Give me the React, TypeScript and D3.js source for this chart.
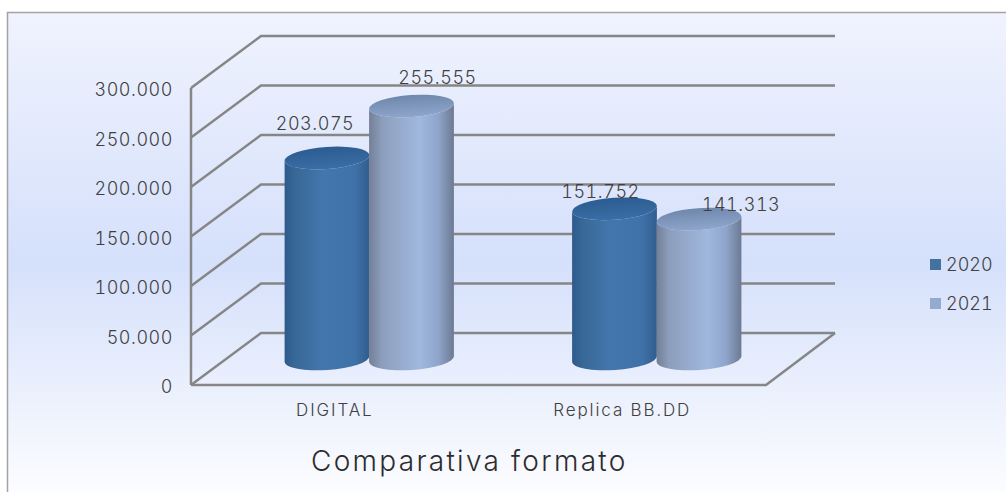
import React from "react";
import * as d3 from "d3";

const categories = ["DIGITAL", "Replica BB.DD"];
const seriesNames = ["2020", "2021"];
const values2020 = [203075, 151752];
const values2021 = [255555, 141313];
const yTicks = [0, 50000, 100000, 150000, 200000, 250000, 300000];
const labelShiftX = [[-12, 26], [-14, 42]];
const labelShiftY = [[-34, -28], [-17, -15]];

const FONT = "Inter, 'DejaVu Sans', sans-serif";
const fmt = (v: number) => String(v).replace(/\B(?=(\d{3})+$)/g, ".");

export default function App() {
  const x0 = 191, x1 = 766, y0 = 385, y1 = 88;
  const depthX = 70, depthY = 52;
  const x = d3.scaleBand().domain(categories).range([x0, x1]);
  const y = d3.scaleLinear().domain([0, 300000]).range([y0, y1]);
  const inner = d3.scaleBand().domain(seriesNames).range([-84, 85]);
  const midX = depthX / 2 - 1, midY = -26;
  const rx = 42.5, ry = 11, tilt = -4;
  const t = (tilt * Math.PI) / 180;
  const series = [values2020, values2021];

  const cylinder = (cat: number, s: number) => {
    const v = series[s][cat];
    const cx = x(categories[cat])! + x.bandwidth() / 2 + midX + inner(seriesNames[s])! + inner.bandwidth() / 2;
    const yBase = y(0) + midY;
    const yTop = y(v) + midY;
    const dx = rx * Math.cos(t), dy = rx * Math.sin(t);
    const side = `M${cx - dx},${yTop - dy} L${cx - dx},${yBase - dy} A${rx},${ry} ${tilt} 0 0 ${cx + dx},${yBase + dy} L${cx + dx},${yTop + dy} A${rx},${ry} ${tilt} 0 1 ${cx - dx},${yTop - dy} Z`;
    return (
      <g key={`${cat}-${s}`}>
        <path d={side} fill={`url(#side${s})`} />
        <ellipse cx={cx} cy={yTop} rx={rx} ry={ry} transform={`rotate(${tilt} ${cx} ${yTop})`} fill={`url(#top${s})`} />
      </g>
    );
  };

  const textStyle = { fontFamily: FONT, fill: "#404040", fontWeight: 300, fontVariantNumeric: "tabular-nums" };

  return (
    <svg width={1006} height={492} style={{ position: "absolute", left: 0, top: 0 }}>
      <defs>
        <linearGradient id="bg" x1="0" y1="0" x2="0" y2="1">
          <stop offset="0" stopColor="#f0f3fe" />
          <stop offset="0.5" stopColor="#d5e0fb" />
          <stop offset="1" stopColor="#ffffff" />
        </linearGradient>
        <linearGradient id="side0" x1="0" y1="0" x2="1" y2="0">
          <stop offset="0" stopColor="#2f5a8c" />
          <stop offset="0.12" stopColor="#376896" />
          <stop offset="0.45" stopColor="#4476ae" />
          <stop offset="0.82" stopColor="#4072aa" />
          <stop offset="1" stopColor="#315d8e" />
        </linearGradient>
        <linearGradient id="side1" x1="0" y1="0" x2="1" y2="0">
          <stop offset="0" stopColor="#737f96" />
          <stop offset="0.15" stopColor="#8c9ebc" />
          <stop offset="0.6" stopColor="#a0b8de" />
          <stop offset="0.82" stopColor="#8fa4ca" />
          <stop offset="1" stopColor="#6c7a92" />
        </linearGradient>
        <linearGradient id="top0" x1="0" y1="0" x2="0" y2="1">
          <stop offset="0" stopColor="#2c5c90" />
          <stop offset="1" stopColor="#3a6ea6" />
        </linearGradient>
        <linearGradient id="top1" x1="0" y1="0" x2="0" y2="1">
          <stop offset="0" stopColor="#6f87ab" />
          <stop offset="1" stopColor="#8ea6cc" />
        </linearGradient>
      </defs>
      <rect x={7.5} y={12.5} width={1010} height={500} fill="url(#bg)" stroke="#a3a3a3" strokeWidth={1.5} />
      <g fill="none" stroke="#868686" strokeWidth={2.5}>
        <line x1={x0} x2={x0} y1={y0} y2={y1} />
        {yTicks.map((v) => (
          <polyline key={v} points={`${x0},${y(v)} ${x0 + depthX},${y(v) - depthY} ${x1 + depthX - 1},${y(v) - depthY}`} />
        ))}
        <polyline points={`${x0},${y0} ${x1},${y0} ${x1 + depthX - 1},${y0 - depthY}`} />
      </g>
      {categories.map((_, c) => seriesNames.map((_, s) => cylinder(c, s)))}
      {yTicks.map((v) => (
        <text key={v} x={173} y={y(v) + 2} dy="0.36em" textAnchor="end" fontSize={18} letterSpacing={0.55} style={textStyle}>{v === 0 ? "0" : fmt(v)}</text>
      ))}
      {categories.map((c) => (
        <text key={c} x={x(c)! + x.bandwidth() / 2} y={410} dy="0.36em" textAnchor="middle" fontSize={17} letterSpacing={1.9} style={textStyle}>{c}</text>
      ))}
      {categories.map((_, c) => seriesNames.map((_, s) => {
        const v = series[s][c];
        const cx = x(categories[c])! + x.bandwidth() / 2 + midX + inner(seriesNames[s])! + inner.bandwidth() / 2;
        return (
          <text key={`${c}-${s}`} x={cx + labelShiftX[c][s]} y={y(v) + midY + labelShiftY[c][s]} dy="0.36em" textAnchor="middle" fontSize={18} letterSpacing={0.55} style={textStyle}>{fmt(v)}</text>
        );
      }))}
      {seriesNames.map((n, i) => (
        <g key={n}>
          <rect x={930} y={259 + i * 39} width={11} height={11} fill={i === 0 ? "#44729f" : "#94abd0"} />
          <text x={946} y={265 + i * 39} dy="0.36em" fontSize={18} letterSpacing={0} style={textStyle}>{n}</text>
        </g>
      ))}
      <text x={311} y={461} dy="0.36em" fontSize={28} letterSpacing={2.3} style={{ ...textStyle, fill: "#2c2c2c" }}>Comparativa formato</text>
    </svg>
  );
}
